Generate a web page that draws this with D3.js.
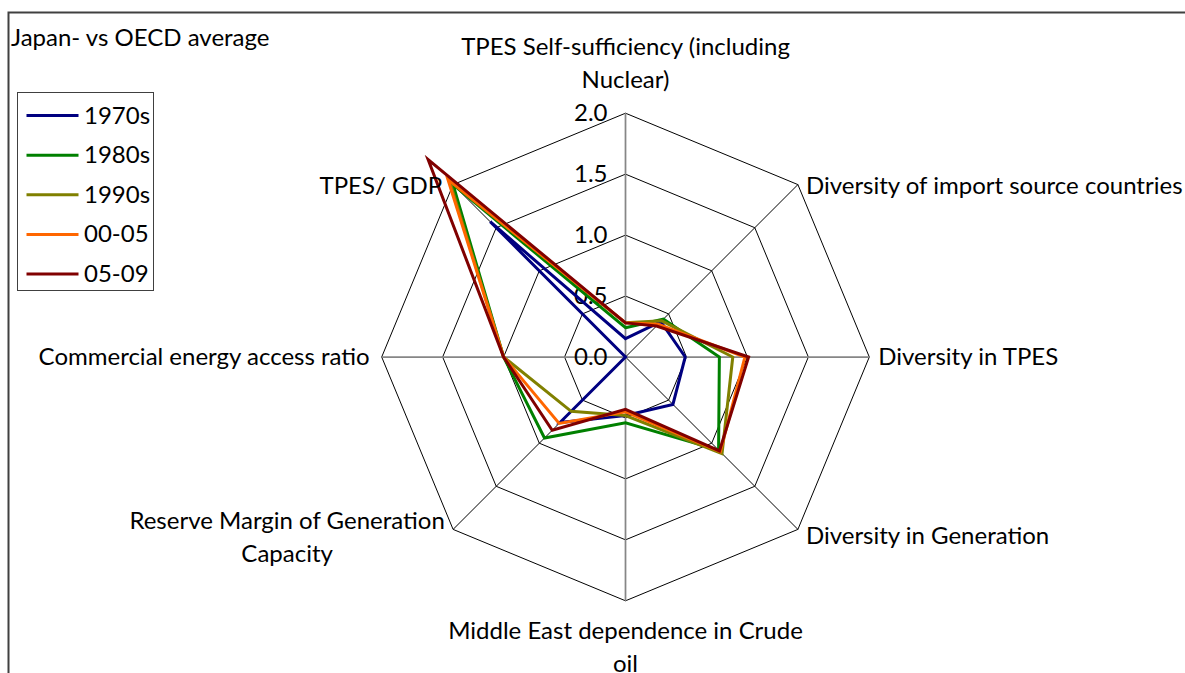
<!DOCTYPE html>
<html>
<head>
<meta charset="utf-8">
<script src="https://cdn.jsdelivr.net/npm/d3@7/dist/d3.min.js"></script>
<style>
  html, body { margin: 0; padding: 0; background: #fff; }
  svg { display: block; }
  text { font-family: Lato, "Open Sans", sans-serif; fill: #000; }
</style>
</head>
<body>
<svg id="chart" width="1185" height="673"></svg>
<script>
// Axes of the radar, clockwise from the top
const categories = [
  "TPES Self-sufficiency (including Nuclear)",
  "Diversity of import source countries",
  "Diversity in TPES",
  "Diversity in Generation",
  "Middle East dependence in Crude oil",
  "Reserve Margin of Generation Capacity",
  "Commercial energy access ratio",
  "TPES/ GDP"
];
// How each axis name breaks over lines
const categoryLines = [
  ["TPES Self-sufficiency (including", "Nuclear)"],
  ["Diversity of import source countries"],
  ["Diversity in TPES"],
  ["Diversity in Generation"],
  ["Middle East dependence in Crude", "oil"],
  ["Reserve Margin of Generation", "Capacity"],
  ["Commercial energy access ratio"],
  ["TPES/ GDP"]
];

// Japan relative to the OECD average (1.0 = OECD average)
const seriesNames = ["1970s", "1980s", "1990s", "00-05", "05-09"];
const values1970s = [0.15, 0.41, 0.49, 0.55, 0.48, 0.76, 0.00, 1.57];
const values1980s = [0.24, 0.44, 0.77, 1.08, 0.54, 0.94, 1.00, 2.00];
const values1990s = [0.28, 0.42, 0.88, 1.12, 0.48, 0.63, 1.00, 2.04];
const values0005  = [0.28, 0.38, 0.98, 1.10, 0.45, 0.77, 1.00, 2.06];
const values0509  = [0.28, 0.36, 1.01, 1.09, 0.43, 0.85, 1.00, 2.29];
const seriesColors = ["#000080", "#008000", "#808000", "#ff6600", "#800000"];

const tickValues = [0, 0.5, 1.0, 1.5, 2.0];
const tickLabels = ["0.0", "0.5", "1.0", "1.5", "2.0"];

const chartTitle = "Japan- vs OECD average";

const seriesValues = [values1970s, values1980s, values1990s, values0005, values0509];

const svg = d3.select("#chart");
const cx = 625.5, cy = 357;
const r = d3.scaleLinear().domain([0, 2]).range([0, 243.8]);
const n = categories.length;
const angle = d3.scaleLinear().domain([0, n]).range([0, 2 * Math.PI]);
const fontSize = 24;

// Outer frame of the chart area
svg.append("rect")
  .attr("x", 8.5).attr("y", 12.5)
  .attr("width", 1200).attr("height", 700)
  .attr("fill", "none").attr("stroke", "#404040").attr("stroke-width", 2);

svg.append("text")
  .attr("x", 11).attr("y", 45.5)
  .attr("font-size", fontSize)
  .text(chartTitle);

const g = svg.append("g").attr("transform", `translate(${cx},${cy})`);

// Web rings
const ring = d3.lineRadial()
  .angle((d, i) => angle(i))
  .radius(d => r(d))
  .curve(d3.curveLinearClosed);

g.selectAll("path.ring")
  .data(tickValues.filter(t => t > 0))
  .join("path")
  .attr("class", "ring")
  .attr("d", t => ring(d3.range(n).map(() => t)))
  .attr("fill", "none")
  .attr("stroke", "#000")
  .attr("stroke-width", 1);

// Spokes: horizontal/vertical ones are the heavier grey axis lines
const pt = (i, v) => [r(v) * Math.sin(angle(i)), -r(v) * Math.cos(angle(i))];
g.selectAll("line.spoke")
  .data(d3.range(n))
  .join("line")
  .attr("class", "spoke")
  .attr("x1", 0).attr("y1", 0)
  .attr("x2", i => pt(i, 2)[0])
  .attr("y2", i => pt(i, 2)[1])
  .attr("stroke", i => i % 2 === 0 ? "#868686" : "#000")
  .attr("stroke-width", i => i % 2 === 0 ? 1.75 : 1);

// Value labels along the vertical axis
g.selectAll("text.tick")
  .data(tickValues)
  .join("text")
  .attr("class", "tick")
  .attr("x", -18)
  .attr("y", t => -r(t) + 2)
  .attr("text-anchor", "end")
  .attr("dominant-baseline", "middle")
  .attr("font-size", fontSize)
  .text((t, i) => tickLabels[i]);

// Series polygons
const line = d3.lineRadial()
  .angle((d, i) => angle(i))
  .radius(d => r(d))
  .curve(d3.curveLinearClosed);

g.selectAll("path.series")
  .data(seriesValues)
  .join("path")
  .attr("class", "series")
  .attr("d", d => line(d))
  .attr("fill", "none")
  .attr("stroke", (d, i) => seriesColors[i])
  .attr("stroke-width", 3)
  .attr("stroke-linejoin", "miter")
  .attr("stroke-miterlimit", 10);

// Axis names around the web
const lineH = 33;
const labelSpec = [
  { dx: 0,   dy: -25, anchor: "middle", pos: "above" },
  { dx: 8,   dy: 1,   anchor: "start",  pos: "mid" },
  { dx: 9,   dy: 0,   anchor: "start",  pos: "mid" },
  { dx: 8,   dy: 7,   anchor: "start",  pos: "mid" },
  { dx: 0,   dy: 38,  anchor: "middle", pos: "below" },
  { dx: -8,  dy: 8,   anchor: "end",    pos: "mid" },
  { dx: -12, dy: 0,   anchor: "end",    pos: "mid" },
  { dx: -11, dy: 1,   anchor: "end",    pos: "mid" }
];

categoryLines.forEach((lines, i) => {
  const [vx, vy] = pt(i, 2);
  const s = labelSpec[i];
  const t = g.append("text")
    .attr("font-size", fontSize)
    .attr("text-anchor", s.anchor);
  const x = vx + s.dx;
  let firstBaseline;
  if (s.pos === "above") firstBaseline = vy + s.dy - (lines.length - 1) * lineH;
  else if (s.pos === "below") firstBaseline = vy + s.dy;
  else firstBaseline = vy + s.dy + 8 - (lines.length - 1) * lineH / 2;
  t.attr("x", x).attr("y", firstBaseline);
  lines.forEach((ln, k) => {
    t.append("tspan").attr("x", x).attr("y", firstBaseline + k * lineH).text(ln);
  });
  // multi-line labels are centred as a block
  if (lines.length > 1 && s.anchor === "end") {
    const w = t.node().getBBox().width;
    t.attr("text-anchor", "middle");
    t.selectAll("tspan").attr("x", x - w / 2);
  }
});

// Legend
const legend = svg.append("g");
legend.append("rect")
  .attr("x", 17.5).attr("y", 92.5)
  .attr("width", 136).attr("height", 198)
  .attr("fill", "#fff").attr("stroke", "#404040").attr("stroke-width", 1);
const ly = d3.scalePoint().domain(seriesNames).range([115.5, 274]);
seriesNames.forEach((name, i) => {
  legend.append("line")
    .attr("x1", 26.5).attr("x2", 78.5)
    .attr("y1", ly(name)).attr("y2", ly(name))
    .attr("stroke", seriesColors[i]).attr("stroke-width", 3);
  legend.append("text")
    .attr("x", 84).attr("y", ly(name) + 8)
    .attr("font-size", fontSize)
    .text(name);
});
</script>
</body>
</html>
